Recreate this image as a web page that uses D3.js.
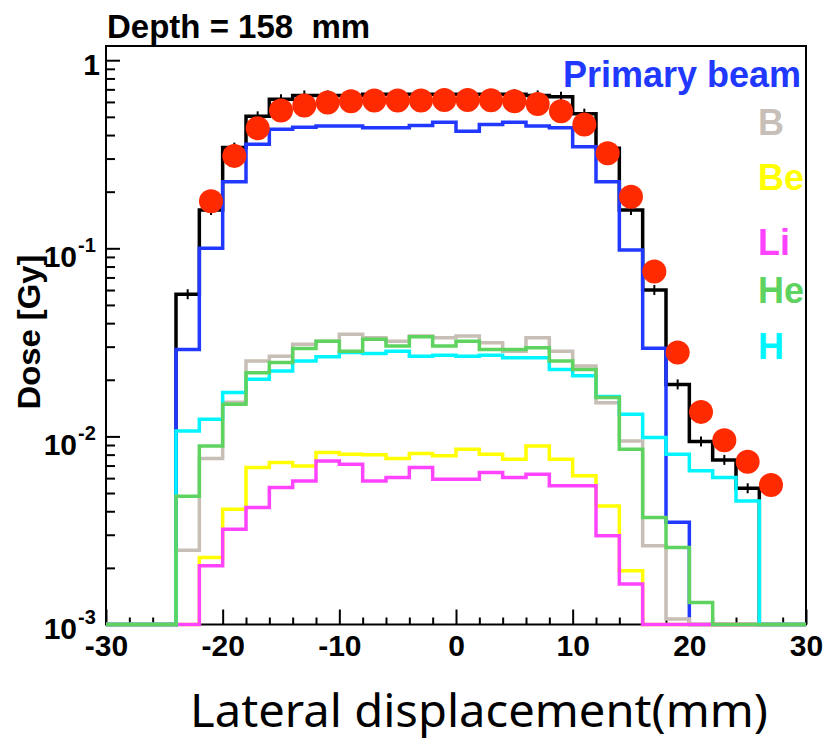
<!DOCTYPE html>
<html>
<head>
<meta charset="utf-8">
<script src="https://cdn.jsdelivr.net/npm/d3@7/dist/d3.min.js"></script>
<style>
  body { margin: 0; background: #fff; }
  svg text { font-family: "Liberation Sans", Arial, sans-serif; font-weight: bold; }
  .x-title { font-family: "Noto Sans", sans-serif; font-weight: normal; }
</style>
</head>
<body>
<svg id="dose-plot" width="832" height="740"></svg>
<script>
// 2 mm bins, lower edges from -30 to 28
const binLow = d3.range(-30, 30, 2);

// dose per bin [Gy] (0 = empty bin, drawn on the frame bottom)
const totalDose   = [0, 0, 0, 0.057, 0.16, 0.343, 0.503, 0.62, 0.65, 0.65, 0.65, 0.66, 0.66, 0.66, 0.66,
                     0.66, 0.66, 0.66, 0.65, 0.64, 0.52, 0.34, 0.16, 0.06, 0.0189, 0.0094, 0.0075, 0.0053, 0, 0];
const primaryDose = [0, 0, 0, 0.029, 0.10, 0.226, 0.357, 0.43, 0.44, 0.447, 0.447, 0.437, 0.437, 0.449, 0.468,
                     0.419, 0.455, 0.468, 0.447, 0.437, 0.347, 0.226, 0.098, 0.0294, 0.0035, 0, 0, 0, 0, 0];
const boronDose   = [0, 0, 0, 0.00248, 0.00764, 0.0152, 0.0252, 0.0267, 0.0309, 0.0321, 0.0349, 0.0335, 0.0321, 0.0342, 0.0335,
                     0.0342, 0.0315, 0.0284, 0.0335, 0.0284, 0.0237, 0.0151, 0.00946, 0.00262, 0.00107, 0, 0, 0, 0, 0];
const berylDose   = [0, 0, 0, 0, 0.00227, 0.0041, 0.00683, 0.00727, 0.00697, 0.00821, 0.00804, 0.0080, 0.00763, 0.0081, 0.00788,
                     0.00855, 0.00804, 0.00756, 0.0089, 0.00756, 0.00617, 0.00427, 0.00193, 0, 0, 0, 0, 0, 0, 0];
const lithiumDose = [0, 0, 0, 0, 0.00205, 0.00321, 0.00419, 0.00535, 0.0058, 0.00741, 0.00711, 0.0058, 0.00605, 0.00683, 0.00592,
                     0.00592, 0.00643, 0.00605, 0.0063, 0.00546, 0.00546, 0.00296, 0.00164, 0, 0, 0, 0, 0, 0, 0];
const heliumDose  = [0, 0, 0, 0.0048, 0.0089, 0.01482, 0.0218, 0.0247, 0.0293, 0.0321, 0.0284, 0.0328, 0.0302, 0.0339, 0.0302,
                     0.0321, 0.029, 0.029, 0.0296, 0.0252, 0.0227, 0.0161, 0.00855, 0.00371, 0.00257, 0.00131, 0, 0, 0, 0];
const hydroDose   = [0, 0, 0, 0.0107, 0.01234, 0.0171, 0.0201, 0.0223, 0.0252, 0.0265, 0.0279, 0.0276, 0.0284, 0.0267, 0.027,
                     0.0267, 0.027, 0.0262, 0.0262, 0.0227, 0.021, 0.0163, 0.0131, 0.00986, 0.00804, 0.00656, 0.00605, 0.00454, 0, 0];

// measured points
const measX = d3.range(-21, 28, 2);
const measDose = [0.178, 0.31, 0.435, 0.54, 0.575, 0.595, 0.605, 0.61, 0.61, 0.61, 0.615, 0.615, 0.612, 0.605,
                  0.585, 0.535, 0.455, 0.32, 0.188, 0.0752, 0.0279, 0.0135, 0.00955, 0.00733, 0.00551];

const xTicks = [-30, -20, -10, 0, 10, 20, 30];
const yTicks = [1e-3, 1e-2, 1e-1, 1];
const yTickLabels = [["10", "-3"], ["10", "-2"], ["10", "-1"], ["1", ""]];

const legendNames = ["Primary beam", "B", "Be", "Li", "He", "H"];

const svg = d3.select("#dose-plot");
const frame = {left: 106, right: 806, top: 46, bottom: 624.5};
const yMin = 1e-3;

const x = d3.scaleLinear().domain([-30, 30]).range([frame.left, frame.right]);
const y = d3.scaleLog().domain([yMin, 1.19]).range([frame.bottom, frame.top]);

// frame
svg.append("rect")
   .attr("x", frame.left).attr("y", frame.top)
   .attr("width", frame.right - frame.left).attr("height", frame.bottom - frame.top)
   .attr("fill", "none").attr("stroke", "#000").attr("stroke-width", 2);

// y axis ticks (inside the frame)
const yMinor = [];
[1e-3, 1e-2, 1e-1].forEach(d => { for (let k = 2; k <= 9; k++) yMinor.push(d * k); });
svg.append("g").attr("transform", `translate(${frame.left},0)`)
   .call(d3.axisLeft(y).tickValues(yTicks).tickSize(-14).tickFormat(""))
   .call(g => g.select(".domain").remove())
   .selectAll("line").attr("stroke-width", 2);
svg.append("g").attr("transform", `translate(${frame.left},0)`)
   .call(d3.axisLeft(y).tickValues(yMinor).tickSize(-9).tickFormat(""))
   .call(g => g.select(".domain").remove())
   .selectAll("line").attr("stroke-width", 2);

// y tick labels with superscript exponents
yTicks.forEach((t, i) => {
    const [base, expo] = yTickLabels[i];
    if (expo === "") {
        svg.append("text").attr("x", 100).attr("y", y(t) + 15)
           .attr("text-anchor", "end").attr("font-size", 30).text(base);
    } else {
        // lowest label sits a bit higher, clear of the x labels
        const lift = (t === yMin) ? 5 : 0;
        svg.append("text").attr("x", 77).attr("y", y(t) + 19 - lift)
           .attr("text-anchor", "end").attr("font-size", 30).text(base);
        svg.append("text").attr("x", 78).attr("y", y(t) + 4 - lift)
           .attr("font-size", 20).text(expo);
    }
});

// x axis ticks
const xMinor = d3.range(-28, 30, 2).filter(d => d % 10 !== 0);
svg.append("g").attr("transform", `translate(0,${frame.bottom})`)
   .call(d3.axisBottom(x).tickValues(xTicks).tickSize(-15).tickPadding(10).tickFormat(d => String(d)))
   .call(g => g.select(".domain").remove())
   .call(g => g.selectAll("line").attr("stroke-width", 2))
   .call(g => g.selectAll("text").attr("font-size", 30).attr("fill", "#000")
                .style("font-family", "'Liberation Sans', Arial, sans-serif").style("font-weight", "bold"));
svg.append("g").attr("transform", `translate(0,${frame.bottom})`)
   .call(d3.axisBottom(x).tickValues(xMinor).tickSize(-7).tickFormat(""))
   .call(g => g.select(".domain").remove())
   .selectAll("line").attr("stroke-width", 2);

// histograms, drawn in the original stacking order
const series = [
    {values: totalDose,   color: "#000000"},
    {values: primaryDose, color: "#2038ff"},
    {values: boronDose,   color: "#c7beb5"},
    {values: berylDose,   color: "#ffff00"},
    {values: lithiumDose, color: "#ff44ff"},
    {values: hydroDose,   color: "#00f5ff"},
    {values: heliumDose,  color: "#5fd35f"}
];
const stepLine = d3.line()
    .x(d => x(d[0]))
    .y(d => y(Math.max(d[1], yMin)))
    .curve(d3.curveStepAfter);

const histArea = svg.append("g").attr("id", "histograms");
series.forEach(s => {
    const pts = binLow.map((b, i) => [b, s.values[i]]);
    pts.push([30, s.values[s.values.length - 1]]);
    histArea.append("path")
        .datum(pts)
        .attr("fill", "none")
        .attr("stroke", s.color)
        .attr("stroke-width", 3.5)
        .attr("d", stepLine);
});

// small error markers on the total dose
histArea.selectAll(".err")
    .data(binLow.map((b, i) => [b + 1, totalDose[i]]).filter(d => d[1] > 0))
    .join("line")
    .attr("class", "err")
    .attr("x1", d => x(d[0])).attr("x2", d => x(d[0]))
    .attr("y1", d => y(d[1]) - 5).attr("y2", d => y(d[1]) + 5)
    .attr("stroke", "#000").attr("stroke-width", 2);

// measured dose points
svg.append("g").selectAll("circle")
    .data(measX.map((m, i) => [m, measDose[i]]))
    .join("circle")
    .attr("cx", d => x(d[0]))
    .attr("cy", d => y(d[1]))
    .attr("r", 12)
    .attr("fill", "#ff2a00");

// legend
const legendColors = ["#2038ff", "#c8c0b8", "#ffff00", "#ff44ff", "#5fd35f", "#00f5ff"];
const legendPos = [[563, 87], [758, 135], [758, 190], [758, 255], [758, 303], [758, 359]];
legendNames.forEach((name, i) => {
    svg.append("text")
       .attr("x", legendPos[i][0]).attr("y", legendPos[i][1])
       .attr("font-size", 36)
       .attr("fill", legendColors[i])
       .text(name);
});

// titles
svg.append("text").attr("x", 107).attr("y", 38)
   .attr("font-size", 33).attr("fill", "#000")
   .text("Depth = 158  mm").attr("xml:space", "preserve").style("white-space", "pre");

svg.append("text")
   .attr("transform", "translate(40,332) rotate(-90)")
   .attr("text-anchor", "middle")
   .attr("font-size", 32)
   .attr("textLength", 155).attr("lengthAdjust", "spacingAndGlyphs")
   .text("Dose [Gy]");

svg.append("text")
   .attr("class", "x-title")
   .attr("x", 190).attr("y", 727)
   .attr("font-size", 46)
   .attr("textLength", 578).attr("lengthAdjust", "spacingAndGlyphs")
   .text("Lateral displacement(mm)");
</script>
</body>
</html>
